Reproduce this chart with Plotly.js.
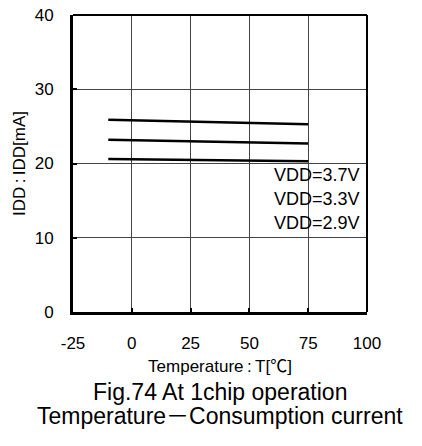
<!DOCTYPE html>
<html>
<head>
<meta charset="utf-8">
<script src="https://cdn.plot.ly/plotly-3.0.1.min.js"></script>
<style>html,body{margin:0;padding:0;background:#fff;}#chart{width:422px;height:446px;}</style>
</head>
<body>
<div id="chart"></div>
<script>
// Data
const temperature = [-10, 75];
const idd37 = [25.9, 25.3];
const idd33 = [23.2, 22.7];
const idd29 = [20.6, 20.3];
const seriesLabels = ["VDD=3.7V", "VDD=3.3V", "VDD=2.9V"];
const labelY = [18.45, 15.2, 11.95];
const xTicks = [-25, 0, 25, 50, 75, 100];
const yTicks = [0, 10, 20, 30, 40];
const captionLines = ["Fig.74 At 1chip operation", "Temperature－Consumption current"];

const FONT = "Liberation Sans, Arial, 'Noto Sans CJK JP', sans-serif";

const lineStyle = {color: "#000", width: 2.5};
const traces = [idd37, idd33, idd29].map((ys, i) => ({
  type: "scatter", mode: "lines", x: temperature, y: ys,
  line: lineStyle, name: seriesLabels[i], showlegend: false, hoverinfo: "skip"
}));

const annotations = seriesLabels.map((t, i) => ({
  text: t, x: 98, y: labelY[i], xref: "x", yref: "y",
  xanchor: "right", yanchor: "middle", showarrow: false,
  font: {family: FONT, size: 18, color: "#000"}
}));
const captionY = [-0.271, -0.3485];
captionLines.forEach((t, i) => annotations.push({
  text: t, x: 0.5, y: captionY[i], xref: "paper", yref: "paper",
  xanchor: "center", yanchor: "middle", showarrow: false,
  font: {family: FONT, size: 23, color: "#000"}
}));

const layout = {
  width: 422, height: 446,
  margin: {l: 73, r: 55, t: 15, b: 134},
  paper_bgcolor: "#fff", plot_bgcolor: "#fff",
  font: {family: FONT, color: "#000"},
  showlegend: false,
  xaxis: {
    range: [-25, 100], tickvals: xTicks, ticktext: xTicks.map(String),
    ticks: "inside", ticklen: 4, tickwidth: 2, tickcolor: "#000",
    showgrid: true, gridcolor: "#444", gridwidth: 1,
    showline: true, linecolor: "#000", linewidth: 3, mirror: false,
    zeroline: false, ticklabelstandoff: 14,
    tickfont: {family: FONT, size: 17, color: "#000"},
    title: {text: "Temperature\u2009:\u2009T[℃]", font: {family: FONT, size: 17, color: "#000"}, standoff: 8}
  },
  yaxis: {
    range: [0, 40], tickvals: yTicks, ticktext: yTicks.map(String),
    ticks: "inside", ticklen: 4, tickwidth: 2, tickcolor: "#000",
    showgrid: true, gridcolor: "#444", gridwidth: 1,
    showline: true, linecolor: "#000", linewidth: 3, mirror: false,
    zeroline: false, ticklabelstandoff: 13,
    tickfont: {family: FONT, size: 17, color: "#000"},
    title: {text: "IDD\u2009:\u2009IDD[mA]", font: {family: FONT, size: 17, color: "#000"}, standoff: 5}
  },
  shapes: [
    {type: "line", xref: "paper", yref: "paper", x0: 0, x1: 1, y0: 1, y1: 1, line: {color: "#000", width: 2}},
    {type: "line", xref: "paper", yref: "paper", x0: 1, x1: 1, y0: 0, y1: 1, line: {color: "#000", width: 2}}
  ],
  annotations: annotations
};

Plotly.newPlot("chart", traces, layout, {staticPlot: true, displayModeBar: false});
</script>
</body>
</html>
